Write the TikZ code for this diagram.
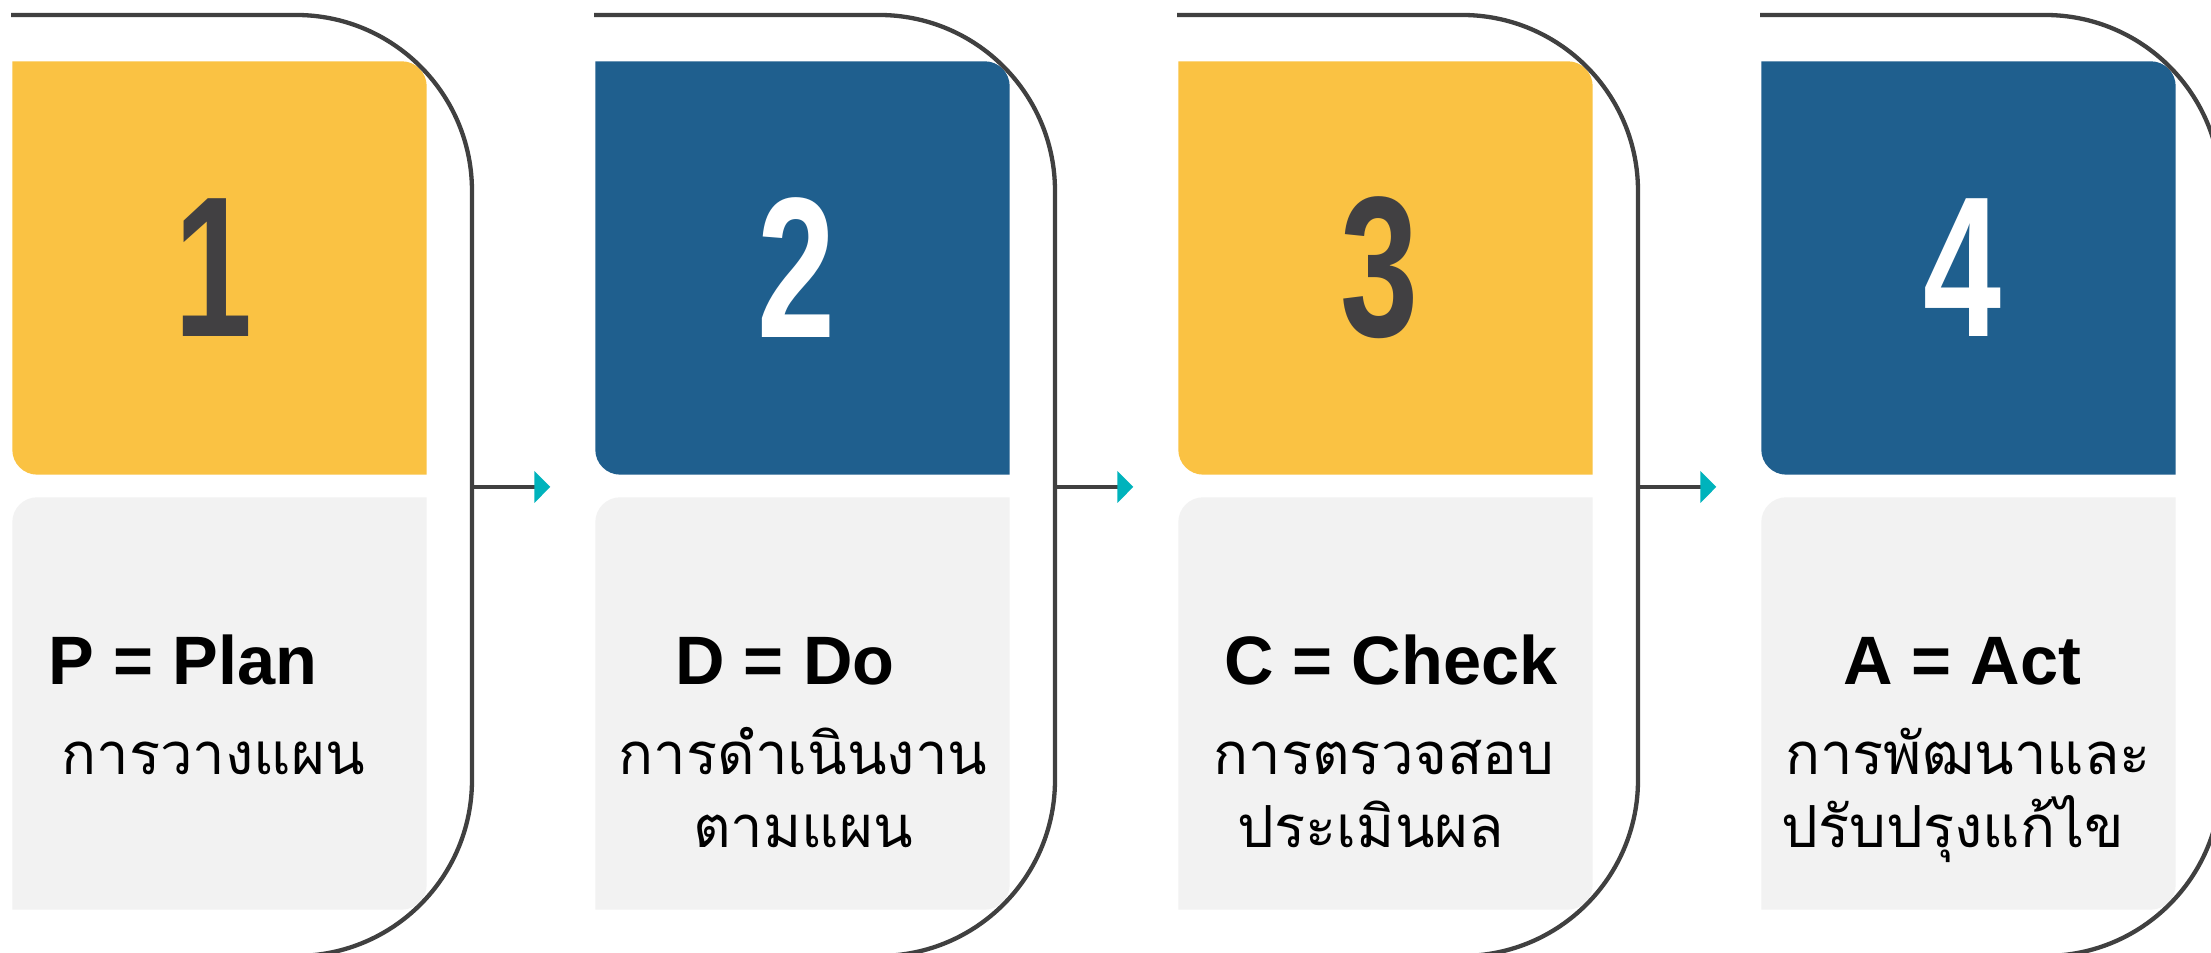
\documentclass[tikz,border=0pt]{standalone}
\usepackage{fontspec}
\setmainfont{Liberation Sans}
\newfontfamily\thaifont[Script=Thai]{Loma}
\newfontfamily\numfont[FakeStretch=0.7]{Liberation Sans}
\usetikzlibrary{positioning,calc,arrows.meta}
\definecolor{plany}{HTML}{FAC243}
\definecolor{doblue}{HTML}{1F5F8E}
\definecolor{boxgray}{HTML}{F2F2F2}
\definecolor{linegray}{HTML}{404040}
\definecolor{numgray}{HTML}{414042}
\definecolor{tipteal}{HTML}{00B3BC}
\tikzset{>=stealth}
\tikzstyle{slot} = [rectangle, inner sep=0pt, minimum width=41.3mm, minimum height=41.2mm]
\tikzstyle{frame} = [draw=linegray, line width=0.43mm]
\tikzstyle{flow} = [draw=linegray, line width=0.43mm, shorten >=4.5mm,
-{Triangle[length=1.6mm,width=3.1mm,color=tipteal]}]
\tikzstyle{digit} = [xshift=-0.6mm, font=\numfont\bfseries\fontsize{57}{57}\selectfont]
\tikzstyle{head} = [anchor=base, font=\bfseries\fontsize{19.5}{19.5}\selectfont]
\tikzstyle{desc} = [anchor=base, font=\thaifont\fontsize{16.5}{16.5}\selectfont]
% coloured box: top right and bottom left corners rounded
\newcommand{\topfill}[2]{\fill[#2] (#1.north west) -- ([xshift=-2.5mm]#1.north east)
  arc[start angle=90,end angle=0,radius=2.5mm] -- (#1.south east) -- ([xshift=2.5mm]#1.south west)
  arc[start angle=270,end angle=180,radius=2.5mm] -- cycle;}
% grey box: top left and bottom right corners rounded
\newcommand{\lowfill}[1]{\fill[boxgray] ([yshift=-2.5mm]#1.north west)
  arc[start angle=180,end angle=90,radius=2.5mm] -- (#1.north east) -- ([yshift=2.5mm]#1.south east)
  arc[start angle=0,end angle=-90,radius=2.5mm] -- (#1.south west) -- cycle;}
% open frame round one step, #1 = left edge of its boxes
\newcommand{\stepframe}[1]{\draw[frame] (#1-2,938) -- (#1+283,938)
  arc[start angle=90,end angle=0,radius=17.6mm] -- (#1+459,173)
  arc[start angle=0,end angle=-90,radius=17.6mm];}

\begin{document}
\begin{tikzpicture}[x=0.1mm, y=0.1mm]
		\path[fill=white, use as bounding box] (0,0) rectangle (2211,953);
		%% Boxes
		\node [slot] (plan) at (219.5,685) {};
		\node [slot] (do) at (802.5,685) {};
		\node [slot] (check) at (1385.5,685) {};
		\node [slot] (act) at (1968.5,685) {};
		\node [slot, minimum height=41.1mm] (planinfo) at (219.5,249.5) {};
		\node [slot, minimum height=41.1mm] (doinfo) at (802.5,249.5) {};
		\node [slot, minimum height=41.1mm] (checkinfo) at (1385.5,249.5) {};
		\node [slot, minimum height=41.1mm] (actinfo) at (1968.5,249.5) {};
		\topfill{plan}{plany}
		\topfill{do}{doblue}
		\topfill{check}{plany}
		\topfill{act}{doblue}
		\lowfill{planinfo}
		\lowfill{doinfo}
		\lowfill{checkinfo}
		\lowfill{actinfo}
		%% Frames
		\stepframe{13}
		\stepframe{596}
		\stepframe{1179}
		\stepframe{1762}
		%% Numbers
		\node [digit, text=numgray] (plannum) at (plan) {1};
		\node [digit, text=white] (donum) at (do) {2};
		\node [digit, text=numgray] (checknum) at (check) {3};
		\node [digit, text=white] (actnum) at (act) {4};
		%% Texts
		\node [head] (planhead) at (183,268) {P = Plan};
		\node [desc] (plantxt) at (213,178) {การวางแผน};
		\node [head] (dohead) at (785,268) {D = Do};
		\node [desc] (dotxt) at (803,178) {การดำเนินงาน};
		\node [desc] (dotxtb) at (803,105) {ตามแผน};
		\node [head] (checkhead) at (1391,268) {C = Check};
		\node [desc] (checktxt) at (1384,178) {การตรวจสอบ};
		\node [desc] (checktxtb) at (1371,105) {ประเมินผล};
		\node [head] (acthead) at (1962,268) {A = Act};
		\node [desc] (acttxt) at (1968,178) {การพัฒนาและ};
		\node [desc] (acttxtb) at (1953,105) {ปรับปรุงแก้ไข};
		%% Links
		\coordinate (planout) at (472,466);
		\coordinate (doout) at (1055,466);
		\coordinate (checkout) at (1638,466);
		\path [flow] (planout) -- (planout -| do.west);
		\path [flow] (doout) -- (doout -| check.west);
		\path [flow] (checkout) -- (checkout -| act.west);
\end{tikzpicture}
\end{document}
